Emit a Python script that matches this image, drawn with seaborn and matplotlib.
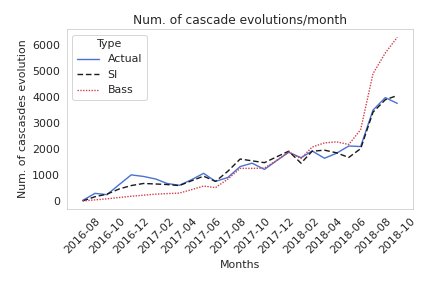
import pandas as pd
import matplotlib
matplotlib.use("Agg")
import matplotlib.pyplot as plt
import matplotlib.dates as mdates
import seaborn as sns

# Monthly values
months = pd.date_range("2016-08-01", "2018-10-01", freq="MS")
actual = [30, 300, 250, 640, 1010, 950, 850, 680, 610, 820, 1070, 760, 910, 1330,
          1460, 1220, 1550, 1880, 1670, 1930, 1650, 1840, 2120, 2100, 3500, 3980, 3760]
si = [10, 170, 270, 470, 600, 680, 660, 640, 600, 780, 960, 760, 1150, 1620,
      1550, 1480, 1700, 1920, 1460, 1920, 1960, 1860, 1680, 2020, 3420, 3900, 4060]
bass = [10, 50, 90, 140, 190, 230, 270, 290, 310, 440, 580, 520, 850, 1260,
        1260, 1270, 1560, 1890, 1640, 2080, 2240, 2280, 2180, 2750, 4900, 5700, 6300]

df = pd.concat([
    pd.DataFrame({"Months": months, "value": actual, "Type": "Actual"}),
    pd.DataFrame({"Months": months, "value": si, "Type": "SI"}),
    pd.DataFrame({"Months": months, "value": bass, "Type": "Bass"}),
])

sns.set_style("whitegrid")
plt.rcParams["font.size"] = 11
fig = plt.figure(figsize=(6, 4), dpi=72)
ax = fig.add_axes([0.155, 0.274, 0.801, 0.625])

palette = {"Actual": "#4a72d4", "SI": "#1a1a1a", "Bass": "#d2404f"}
dashes = {"Actual": "", "SI": (4, 2), "Bass": (1, 1)}
sns.lineplot(data=df, x="Months", y="value", hue="Type", style="Type",
             palette=palette, dashes=dashes, linewidth=1.4, ax=ax)

ax.grid(False)
ax.xaxis.set_major_locator(mdates.MonthLocator(interval=2))
ax.xaxis.set_major_formatter(mdates.DateFormatter("%Y-%m"))
plt.setp(ax.get_xticklabels(), rotation=45)
ax.set_xlabel("Months")
ax.set_ylabel("Num. of cascasdes evolution")
ax.set_title("Num. of cascade evolutions/month", fontsize=12.2)
ax.legend(loc="upper left")
ax.get_legend().set_title("Type")

fig.savefig("out.png", dpi=72)
